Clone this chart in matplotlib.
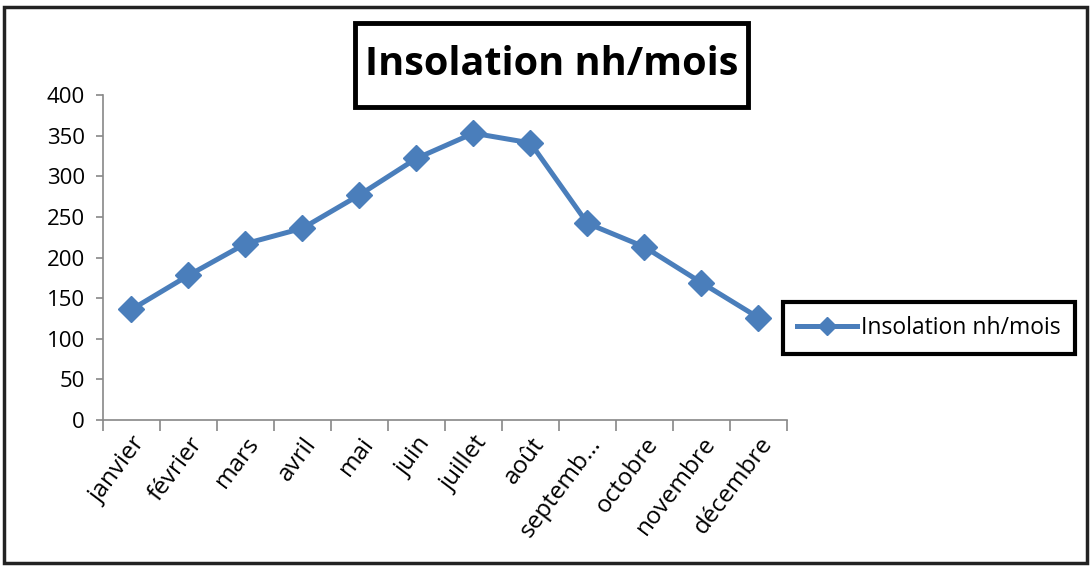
import matplotlib.pyplot as plt
from matplotlib.patches import Rectangle

mois = ['janvier', 'février', 'mars', 'avril', 'mai', 'juin', 'juillet',
        'août', 'septemb…', 'octobre', 'novembre', 'décembre']
insolation = [136, 178, 217, 236, 277, 322, 353, 341, 242, 213, 169, 126]
y_ticks = [0, 50, 100, 150, 200, 250, 300, 350, 400]

plt.rcParams['font.family'] = ['Open Sans', 'DejaVu Sans']

fig = plt.figure(figsize=(10.91, 5.68), dpi=100)
ax = fig.add_axes([0.0944, 0.2606, 0.6269, 0.5721])

x = range(len(mois))
ax.plot(x, insolation, color='#4a7ebb', lw=3.6, marker='D', ms=13,
        label='Insolation nh/mois')

ax.set_xlim(-0.5, len(mois) - 0.5)
ax.set_ylim(0, 400)
ax.set_yticks(y_ticks)
ax.set_yticklabels([str(v) for v in y_ticks], fontsize=16)

# category ticks sit between months, labels at month centres
ax.set_xticks([i - 0.5 for i in range(len(mois) + 1)])
ax.set_xticklabels([])
ax.set_xticks(list(x), minor=True)
ax.set_xticklabels(mois, minor=True, ha='right', va='top',
                   rotation_mode='anchor', fontsize=17.5)
for lbl in ax.get_xticklabels(minor=True):
    lbl.set_rotation(53)
ax.tick_params(axis='x', which='minor', length=0, pad=9)
ax.tick_params(axis='x', which='major', length=8, color='#888888', width=1.2)
ax.tick_params(axis='y', length=5, color='#888888', width=1.2, pad=8)

for s in ['top', 'right']:
    ax.spines[s].set_visible(False)
for s in ['left', 'bottom']:
    ax.spines[s].set_color('#888888')
    ax.spines[s].set_linewidth(1.2)

# title box
fig.patches.append(Rectangle((0.3254, 0.8116), 0.3602, 0.1479, transform=fig.transFigure,
                             fc='white', ec='black', lw=3.5))
fig.text(0.5055, 0.887, 'Insolation nh/mois', ha='center', va='center',
         fontsize=28.5, fontweight='bold')

leg = fig.legend(loc='center left', bbox_to_anchor=(0.718, 0.4225),
                 fontsize=16.5, fancybox=False, framealpha=1,
                 handlelength=2.6, borderpad=0.6, handletextpad=0.2,
                 borderaxespad=0, markerscale=0.7)
leg.get_frame().set_edgecolor('black')
leg.get_frame().set_linewidth(3)

fig.patches.append(Rectangle((0.004, 0.009), 0.992, 0.979, transform=fig.transFigure,
                             fill=False, ec='#222222', lw=2.5))

fig.savefig('out.png', dpi=100)
